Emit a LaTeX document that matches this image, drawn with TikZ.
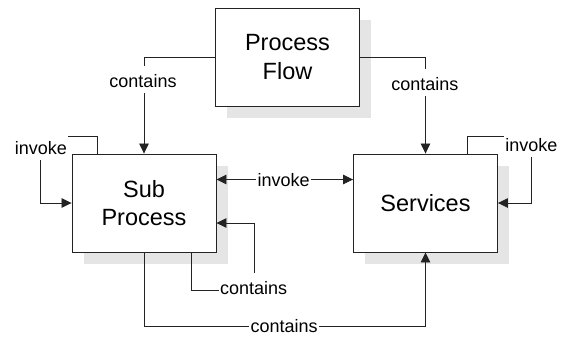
\documentclass[tikz,border=0pt]{standalone}
\usepackage{fontspec}
\setmainfont{Liberation Sans}
\usetikzlibrary{arrows.meta,calc,shadows}
\definecolor{shadowgray}{RGB}{229,229,229}
\definecolor{linegray}{RGB}{35,35,35}
\begin{document}
\begin{tikzpicture}[x=1pt,y=-1pt,
  box/.style={draw=linegray,line width=0.9pt,fill=white,minimum width=144pt,minimum height=98pt,
    inner sep=0pt,align=center,font=\fontsize{23.5}{28.5}\selectfont,
    drop shadow={shadow xshift=11.5pt,shadow yshift=-12pt,fill=shadowgray,opacity=1}},
  conn/.style={draw=linegray,line width=0.8pt},
  arr/.style={conn,-{Triangle[length=10pt,width=9.5pt]}},
  darr/.style={conn,{Triangle[length=10pt,width=9.5pt]}-{Triangle[length=10pt,width=9.5pt]}},
  lbl/.style={fill=white,font=\fontsize{18}{20}\selectfont,text height=19pt,text depth=4pt,inner xsep=1.5pt,inner ysep=2pt}]
\useasboundingbox (0,0) rectangle (565,338);
\node[box] (pf) at (287.5,57) {Process\\Flow};
\node[box] (sub) at (144,203) {Sub\\Process};
\node[box] (serv) at (425.5,203) {Services};
% connectors
\draw[arr] (pf.west) -| (sub.north);
\draw[arr] (pf.east) -| (serv.north);
\draw[darr] ([yshift=23.5pt]sub.east) -- ([yshift=23.5pt]serv.west);
\draw[arr] ($(sub.north)+(-47,0)$) -- ++(0,-17) -| ($(sub.west)+(-31,0)$) -- (sub.west);
\draw[arr] ($(serv.north)+(42,0)$) -- ++(0,-17) -| ($(serv.east)+(33,0)$) -- (serv.east);
\draw[arr] ($(sub.south)+(47,0)$) -- ++(0,38) -| ($(sub.east)+(38,20)$) -- ($(sub.east)+(0,20)$);
\draw[arr] (sub.south) -- ++(0,74) -| (serv.south);
% labels
\node[lbl] (l1) at (143,79.8) {contains};
\node[lbl] (l2) at (424.8,82.5) {contains};
\node[lbl] (l3) at (283.7,178.5) {invoke};
\node[lbl] (l4) at (40.8,146.8) {invoke};
\node[lbl] (l5) at (531.3,143.5) {invoke};
\node[lbl] (l6) at (253.7,286.8) {contains};
\node[lbl] (l7) at (284.2,324.8) {contains};
\end{tikzpicture}
\end{document}
